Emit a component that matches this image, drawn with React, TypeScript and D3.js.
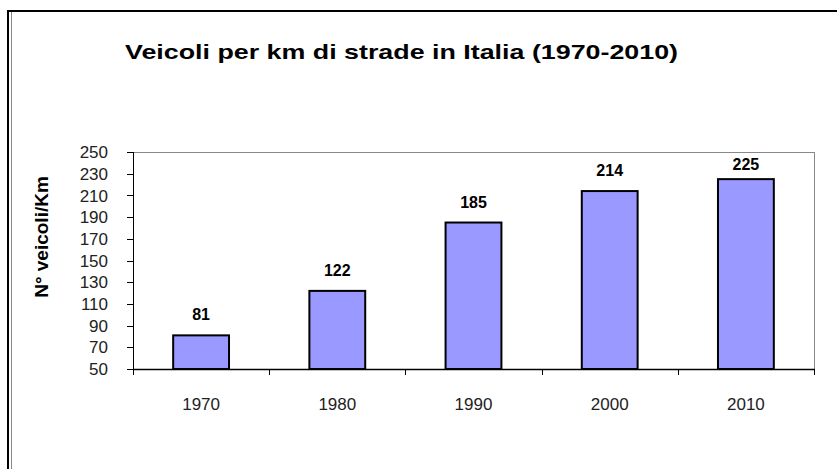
import React from "react";
import * as d3 from "d3";

const categories = ["1970", "1980", "1990", "2000", "2010"];
const values = [81, 122, 185, 214, 225];
const yTicks = [50, 70, 90, 110, 130, 150, 170, 190, 210, 230, 250];
const title = "Veicoli per km di strade in Italia (1970-2010)";
const yTitle = "N° veicoli/Km";

const W = 837;
const H = 469;
const left = 133;
const right = 814;
const top = 152;
const bottom = 369;
const font = "'Liberation Sans', Arial, sans-serif";

export default function App() {
  const x = d3.scaleBand<string>().domain(categories).range([left, right]).padding(0);
  const y = d3.scaleLinear().domain([50, 250]).range([bottom, top]);
  const bw = x.bandwidth() * 0.41;
  const bounds = categories.map((c) => x(c) as number).concat([right]);

  return (
    <svg width={W} height={H} style={{ position: "absolute", left: 0, top: 0, background: "#fff" }}>
      <rect x={0} y={0} width={W} height={H} fill="#fff" />
      {/* outer frame */}
      <line x1={7} x2={W} y1={11} y2={11} stroke="#000" strokeWidth={2} />
      <line x1={8} x2={8} y1={10} y2={H} stroke="#000" strokeWidth={2} />
      <line x1={11.5} x2={11.5} y1={12} y2={H} stroke="#888" strokeWidth={1} />

      {/* title */}
      <text
        x={125}
        y={59}
        fontFamily={font}
        fontWeight="bold"
        fontSize={21}
        textLength={553}
        lengthAdjust="spacingAndGlyphs"
        fill="#000"
      >
        {title}
      </text>

      {/* plot area border */}
      <line x1={left} x2={right} y1={top + 0.5} y2={top + 0.5} stroke="#888" strokeWidth={1} />
      <line x1={right + 0.5} x2={right + 0.5} y1={top} y2={bottom} stroke="#888" strokeWidth={1} />

      {/* bars */}
      {categories.map((c, i) => {
        const cx = (x(c) as number) + x.bandwidth() / 2;
        return (
          <rect
            key={c}
            x={cx - bw / 2}
            y={y(values[i])}
            width={bw}
            height={bottom - y(values[i])}
            fill="#9999FF"
            stroke="#000"
            strokeWidth={2}
          />
        );
      })}

      {/* value labels */}
      {categories.map((c, i) => {
        const cx = (x(c) as number) + x.bandwidth() / 2;
        const by = Math.max(y(values[i]) - 15, top + 18);
        return (
          <text key={c} x={cx} y={by} textAnchor="middle" fontFamily={font} fontWeight="bold" fontSize={16} fill="#000">
            {values[i]}
          </text>
        );
      })}

      {/* y axis */}
      <line x1={left + 0.5} x2={left + 0.5} y1={top} y2={bottom} stroke="#000" strokeWidth={1} />
      {yTicks.map((t) => (
        <g key={t}>
          <line x1={127} x2={left} y1={Math.round(y(t)) + 0.5} y2={Math.round(y(t)) + 0.5} stroke="#000" />
          <text
            x={108}
            y={y(t)}
            dy="0.36em"
            textAnchor="end"
            fontFamily={font}
            fontSize={17}
            fill="#222"
          >
            {t}
          </text>
        </g>
      ))}

      {/* x axis */}
      <line x1={left} x2={right + 1} y1={bottom + 0.5} y2={bottom + 0.5} stroke="#000" strokeWidth={1.5} />
      {bounds.map((b, i) => (
        <line key={i} x1={Math.round(b) + 0.5} x2={Math.round(b) + 0.5} y1={bottom} y2={bottom + 6} stroke="#000" />
      ))}
      {categories.map((c) => (
        <text
          key={c}
          x={(x(c) as number) + x.bandwidth() / 2}
          y={410}
          textAnchor="middle"
          fontFamily={font}
          fontSize={17}
          fill="#222"
        >
          {c}
        </text>
      ))}

      {/* y title */}
      <text
        transform={`translate(48,237) rotate(-90)`}
        textAnchor="middle"
        fontFamily={font}
        fontWeight="bold"
        fontSize={19}
        fill="#000"
      >
        {yTitle}
      </text>
    </svg>
  );
}
